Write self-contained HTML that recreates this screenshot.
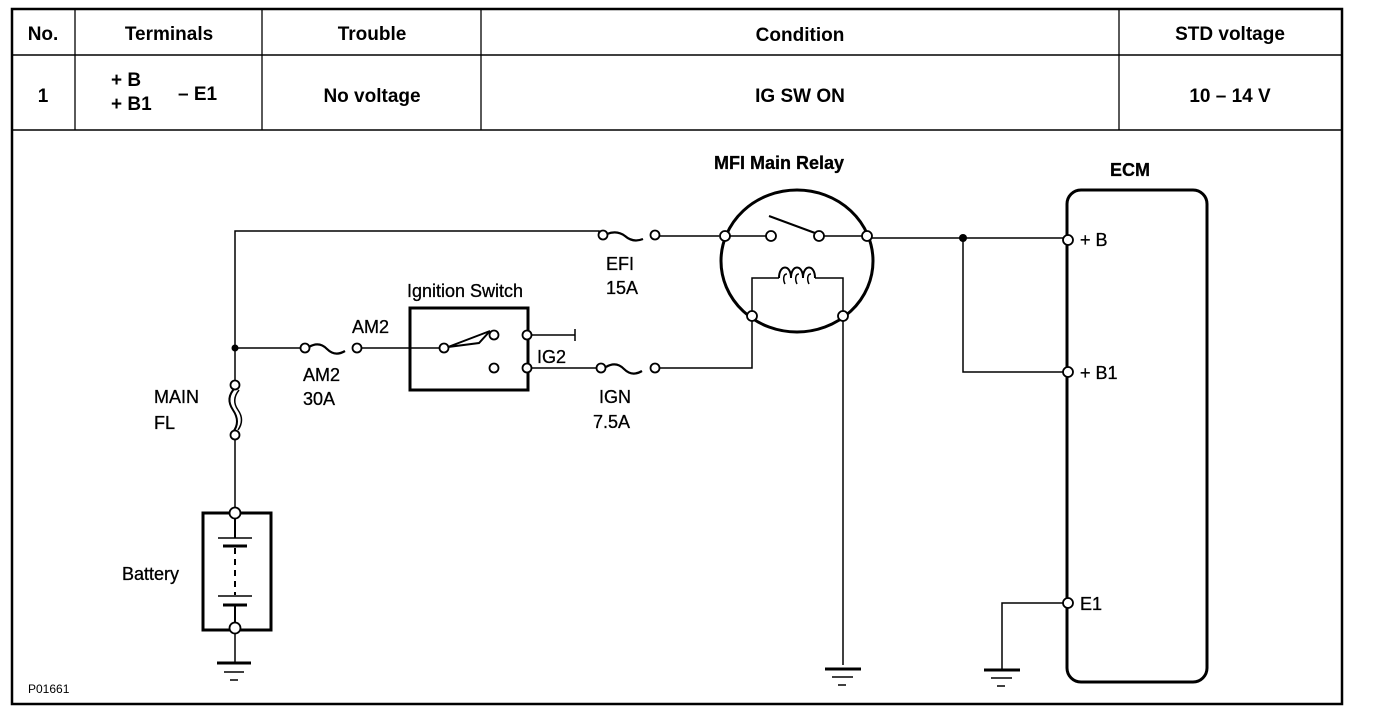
<!DOCTYPE html>
<html><head><meta charset="utf-8"><style>
html,body{margin:0;padding:0;background:#fff;}
svg{display:block;}
text{font-family:"Liberation Sans",Arial,sans-serif;fill:#000;}
.h{font-weight:bold;font-size:19px;}
.l{font-size:18px;stroke:#000;stroke-width:0.3;}
</style></head><body>
<svg width="1376" height="722" viewBox="0 0 1376 722" xmlns="http://www.w3.org/2000/svg">
<g stroke="#000" fill="none">
<rect x="12" y="9" width="1330" height="695" stroke-width="2.5"/>
<line x1="12" y1="55" x2="1342" y2="55" stroke-width="1.5"/>
<line x1="12" y1="130" x2="1342" y2="130" stroke-width="1.5"/>
<line x1="75" y1="9" x2="75" y2="130" stroke-width="1.3"/>
<line x1="262" y1="9" x2="262" y2="130" stroke-width="1.3"/>
<line x1="481" y1="9" x2="481" y2="130" stroke-width="1.3"/>
<line x1="1119" y1="9" x2="1119" y2="130" stroke-width="1.3"/>

<g stroke-width="1.5">
<polyline points="235,382 235,231 599,231 599,235"/>
<line x1="659" y1="236" x2="719" y2="236"/>
<line x1="235" y1="348" x2="301" y2="348"/>
<line x1="361" y1="348" x2="440" y2="348"/>
<line x1="531" y1="335" x2="575" y2="335"/>
<line x1="575" y1="329" x2="575" y2="341"/>
<polyline points="531,368 597,368"/>
<polyline points="659,368 752,368 752,321"/>
<polyline points="752,311 752,278 779,278"/>
<polyline points="815,278 843,278 843,311"/>
<line x1="843" y1="321" x2="843" y2="665"/>
<line x1="730" y1="236" x2="766" y2="236"/>
<line x1="824" y1="236" x2="862" y2="236"/>
<line x1="872" y1="238" x2="1063" y2="238"/>
<polyline points="963,238 963,372 1063,372"/>
<polyline points="1063,603 1002,603 1002,670"/>
<line x1="235" y1="440" x2="235" y2="508"/>
<line x1="235" y1="633" x2="235" y2="662"/>
</g>
<line x1="769" y1="216" x2="815" y2="233" stroke-width="2"/>

<ellipse cx="797" cy="261" rx="76" ry="71" stroke-width="3"/>
<path d="M779,278 c0,-14 12,-14 12,0 c0,-14 12,-14 12,0 c0,-14 12,-14 12,0" stroke-width="2"/>
<path d="M785,284 c-2,-4 -2,-10 2,-10 M797,284 c-2,-4 -2,-10 2,-10 M809,284 c-2,-4 -2,-10 2,-10" stroke-width="1.5"/>

<rect x="410" y="308" width="118" height="82" stroke-width="3"/>
<polygon points="448,347 490,331 479,343" stroke-width="2"/>

<rect x="1067" y="190" width="140" height="492" rx="14" stroke-width="3"/>

<rect x="203" y="513" width="68" height="117" stroke-width="3"/>
<g stroke-width="2">
<line x1="235" y1="517" x2="235" y2="538"/>
<line x1="218" y1="538" x2="252" y2="538" stroke-width="1.5"/>
<line x1="223" y1="546" x2="247" y2="546" stroke-width="3"/>
<line x1="235" y1="548" x2="235" y2="595" stroke-dasharray="6,5"/>
<line x1="218" y1="596" x2="252" y2="596" stroke-width="1.5"/>
<line x1="223" y1="605" x2="247" y2="605" stroke-width="3"/>
<line x1="235" y1="605" x2="235" y2="625"/>
</g>

<path d="M235,388 q-10,10 -2,22 q8,12 0,22" stroke-width="2"/>
<path d="M239,390 q-8,10 -1,20 q7,10 0,20" stroke-width="1.5"/>

<g stroke-width="2.2">
<path d="M309,347 q10,-6 18,2 q8,8 18,2"/>
<path d="M607,234 q10,-4 18,2 q8,7 18,3"/>
<path d="M606,367 q10,-6 18,2 q8,8 18,2"/>
</g>

<g stroke-width="3">
<line x1="217" y1="663" x2="251" y2="663"/>
<line x1="825" y1="669" x2="861" y2="669"/>
<line x1="984" y1="670" x2="1020" y2="670"/>
</g>
<g stroke-width="1.5">
<line x1="224" y1="672" x2="244" y2="672"/><line x1="230" y1="680" x2="238" y2="680"/>
<line x1="832" y1="677" x2="853" y2="677"/><line x1="838" y1="685" x2="846" y2="685"/>
<line x1="991" y1="678" x2="1012" y2="678"/><line x1="997" y1="686" x2="1005" y2="686"/>
</g>
</g>

<circle cx="235" cy="348" r="3.5" fill="#000"/>
<circle cx="963" cy="238" r="4" fill="#000"/>

<g fill="#fff" stroke="#000" stroke-width="1.8">
<circle cx="235" cy="385" r="4.5"/><circle cx="235" cy="435" r="4.5"/>
<circle cx="305" cy="348" r="4.5"/><circle cx="357" cy="348" r="4.5"/>
<circle cx="603" cy="235" r="4.5"/><circle cx="655" cy="235" r="4.5"/>
<circle cx="601" cy="368" r="4.5"/><circle cx="655" cy="368" r="4.5"/>
<circle cx="444" cy="348" r="4.5"/>
<circle cx="494" cy="335" r="4.5"/><circle cx="494" cy="368" r="4.5"/>
<circle cx="527" cy="335" r="4.5"/><circle cx="527" cy="368" r="4.5"/>
<circle cx="725" cy="236" r="5"/><circle cx="771" cy="236" r="5"/>
<circle cx="819" cy="236" r="5"/><circle cx="867" cy="236" r="5"/>
<circle cx="752" cy="316" r="5"/><circle cx="843" cy="316" r="5"/>
<circle cx="1068" cy="240" r="5"/><circle cx="1068" cy="372" r="5"/><circle cx="1068" cy="603" r="5"/>
<circle cx="235" cy="513" r="5.5"/><circle cx="235" cy="628" r="5.5"/>
</g>

<text class="h" x="43" y="40" text-anchor="middle">No.</text>
<text class="h" x="169" y="40" text-anchor="middle">Terminals</text>
<text class="h" x="372" y="40" text-anchor="middle">Trouble</text>
<text class="h" x="800" y="41" text-anchor="middle">Condition</text>
<text class="h" x="1230" y="40" text-anchor="middle">STD voltage</text>
<text class="h" x="43" y="102" text-anchor="middle">1</text>
<text class="h" x="111" y="86" font-size="17">+ B</text>
<text class="h" x="111" y="110" font-size="17">+ B1</text>
<text class="h" x="178" y="100" font-size="17">– E1</text>
<text class="h" x="372" y="102" text-anchor="middle">No voltage</text>
<text class="h" x="800" y="102" text-anchor="middle">IG SW ON</text>
<text class="h" x="1230" y="102" text-anchor="middle">10 – 14 V</text>

<text class="l" x="714" y="169" font-weight="bold">MFI Main Relay</text>
<text class="l" x="1110" y="176" font-weight="bold">ECM</text>
<text class="l" x="407" y="297">Ignition Switch</text>
<text class="l" x="352" y="333">AM2</text>
<text class="l" x="303" y="381">AM2</text>
<text class="l" x="303" y="405">30A</text>
<text class="l" x="154" y="403">MAIN</text>
<text class="l" x="154" y="429">FL</text>
<text class="l" x="606" y="270">EFI</text>
<text class="l" x="606" y="294">15A</text>
<text class="l" x="537" y="363">IG2</text>
<text class="l" x="599" y="403">IGN</text>
<text class="l" x="593" y="428">7.5A</text>
<text class="l" x="1080" y="246">+ B</text>
<text class="l" x="1080" y="379">+ B1</text>
<text class="l" x="1080" y="610">E1</text>
<text class="l" x="122" y="580">Battery</text>
<text x="28" y="693" font-size="12">P01661</text>
</svg>
</body></html>
